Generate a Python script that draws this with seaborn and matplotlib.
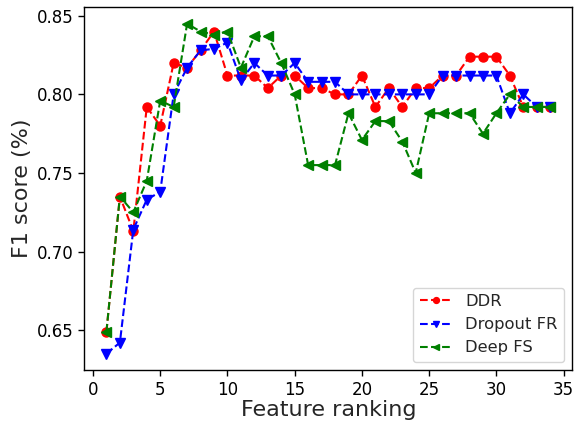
import matplotlib
matplotlib.use("Agg")
import matplotlib.pyplot as plt
import seaborn as sns
import pandas as pd

feature_rank = list(range(1, 35))
ddr = [0.649, 0.735, 0.713, 0.792, 0.780, 0.820, 0.817, 0.828, 0.840, 0.812,
       0.812, 0.812, 0.804, 0.812, 0.812, 0.804, 0.804, 0.800, 0.800, 0.812,
       0.792, 0.804, 0.792, 0.804, 0.804, 0.812, 0.812, 0.824, 0.824, 0.824,
       0.812, 0.792, 0.792, 0.792]
dropout_fr = [0.635, 0.642, 0.714, 0.733, 0.738, 0.800, 0.817, 0.828, 0.829, 0.833,
              0.809, 0.820, 0.812, 0.812, 0.820, 0.808, 0.808, 0.808, 0.800, 0.800,
              0.800, 0.800, 0.800, 0.800, 0.800, 0.812, 0.812, 0.812, 0.812, 0.812,
              0.788, 0.800, 0.792, 0.792]
deep_fs = [0.649, 0.735, 0.725, 0.745, 0.796, 0.792, 0.845, 0.840, 0.838, 0.840,
           0.817, 0.837, 0.837, 0.820, 0.800, 0.755, 0.755, 0.755, 0.788, 0.771,
           0.783, 0.783, 0.770, 0.750, 0.788, 0.788, 0.788, 0.788, 0.775, 0.788,
           0.800, 0.792, 0.792, 0.792]
series_names = ["DDR", "Dropout FR", "Deep FS"]

sns.set_style("white")
plt.rcParams['font.family'] = ['DejaVu Sans']

fig = plt.figure(figsize=(5.77, 4.23), dpi=100)
ax = fig.add_axes([0.146, 0.125, 0.846, 0.858])

specs = [(ddr, "red", "o"), (dropout_fr, "blue", "v"), (deep_fs, "green", "<")]
for name, (vals, col, mk) in zip(series_names, specs):
    df = pd.DataFrame({"x": feature_rank, "y": vals})
    sns.lineplot(data=df, x="x", y="y", ax=ax, color=col, marker=mk,
                 markersize=6.5, markeredgewidth=1, markeredgecolor=col,
                 linestyle="--", linewidth=1.5, label=name)

ax.set_xlabel("Feature ranking", fontsize=16, labelpad=1)
ax.set_ylabel("F1 score (%)", fontsize=16)
ax.set_xticks([0, 5, 10, 15, 20, 25, 30, 35])
ax.set_yticks([0.65, 0.70, 0.75, 0.80, 0.85])
ax.tick_params(axis="both", labelsize=12, direction="out", length=4, width=1,
               left=True, bottom=True, colors="black")
for s in ax.spines.values():
    s.set_color("black")
    s.set_linewidth(1)
ax.margins(x=0.05, y=0.05)
leg = ax.legend(loc="lower right", fontsize=11.75, markerscale=0.65, frameon=True)
leg.get_frame().set_edgecolor("#cccccc")

fig.savefig("out.png", dpi=100)
